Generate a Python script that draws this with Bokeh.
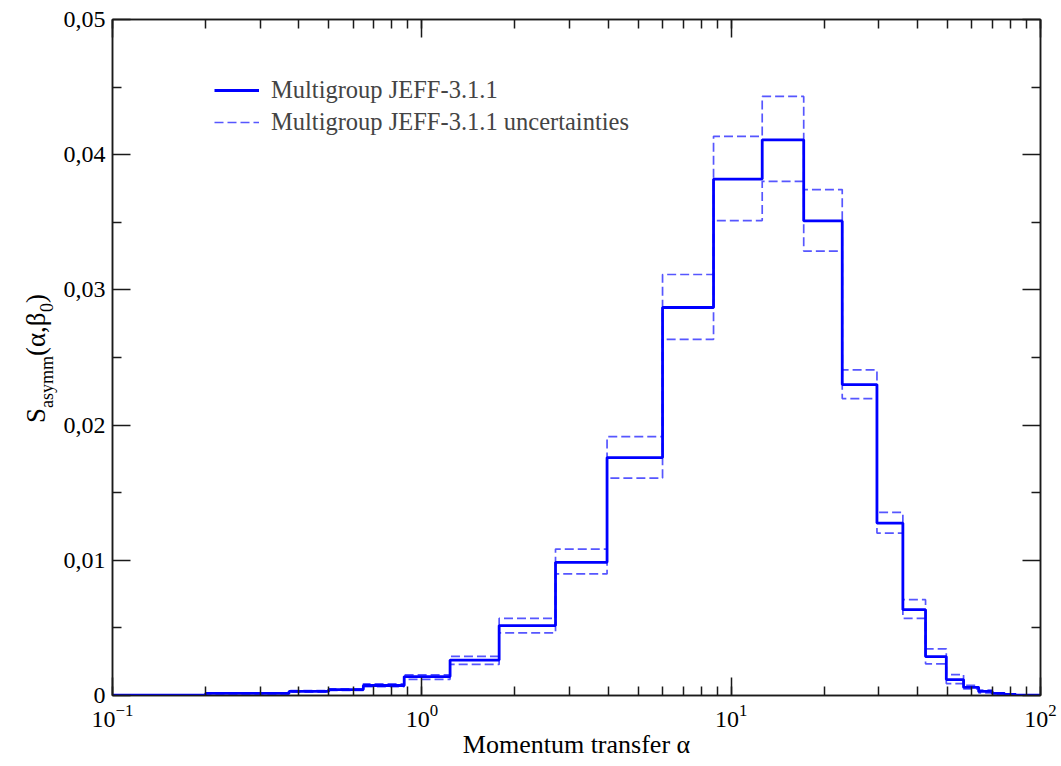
import math
from bokeh.plotting import figure
from bokeh.layouts import row
from bokeh.models import (LogAxis, LinearAxis, FixedTicker, LogTicker, CustomJSTickFormatter,
                          Legend, LegendItem, Label, Range1d)
from bokeh.embed import file_html
from bokeh.resources import INLINE

# ---- data ----
edges = [0.1, 0.2, 0.372, 0.5, 0.647, 0.877, 1.234, 1.778, 2.705, 3.97, 6.0, 8.77, 12.6,
         17.16, 22.86, 29.6, 35.9, 42.5, 49.6, 56.4, 63.1, 69.8, 76.5, 83.2, 100.0]
values = [0.00003, 0.00015, 0.0003, 0.00044, 0.00074, 0.0014, 0.00262, 0.00517, 0.00985,
          0.0176, 0.0287, 0.0382, 0.0411, 0.0351, 0.0230, 0.01275, 0.00635, 0.00288,
          0.00118, 0.0006, 0.0003, 0.00015, 0.00008, 0.00003]
upper = [0.00005, 0.0002, 0.00036, 0.0005, 0.00086, 0.00152, 0.0029, 0.00571, 0.01083,
         0.01915, 0.03114, 0.04136, 0.04431, 0.03742, 0.02408, 0.01354, 0.00709, 0.00345,
         0.00155, 0.00075, 0.0004, 0.0002, 0.0001, 0.00004]
lower = [0.00002, 0.0001, 0.00025, 0.00038, 0.00066, 0.0012, 0.0023, 0.00463, 0.00899,
         0.01608, 0.02634, 0.03513, 0.03803, 0.03287, 0.02196, 0.01201, 0.00571, 0.00234,
         0.00088, 0.00048, 0.0002, 0.0001, 0.00006, 0.00002]
y_ticks = [0.0, 0.01, 0.02, 0.03, 0.04, 0.05]
y_minor = [0.005, 0.015, 0.025, 0.035, 0.045]
legend_labels = ["Multigroup JEFF-3.1.1", "Multigroup JEFF-3.1.1 uncertainties"]
x_label = "Momentum transfer \u03b1"
y_label_parts = ["S", "asymm", "(\u03b1,\u03b2", "0", ")"]

FONT = "Liberation Serif"
AX = "#1a1a1a"
W, H = 1061, 766
LW = 60  # width of the strip holding the y-axis title
FRAME_BOTTOM = 695  # canvas y of the plot frame's bottom edge (shared by both panels)

p = figure(width=W - LW, height=H, x_axis_type="log", output_backend="svg",
           toolbar_location=None, x_range=Range1d(0.1, 100), y_range=Range1d(0, 0.05),
           min_border_left=111 - LW, min_border_right=21, min_border_top=19,
           min_border_bottom=H - FRAME_BOTTOM)
p.grid.visible = False
p.outline_line_color = AX
p.outline_line_width = 1.5
p.background_fill_color = "white"
p.border_fill_color = "white"

yt = FixedTicker(ticks=y_ticks, minor_ticks=y_minor)
xt = LogTicker(desired_num_ticks=4, num_minor_ticks=10)
yfmt = CustomJSTickFormatter(code="return tick == 0 ? '0' : tick.toFixed(2).replace('.', ',');")


def style(ax, labels=True):
    ax.axis_line_color = AX
    ax.axis_line_width = 1.5
    ax.major_tick_line_color = AX
    ax.minor_tick_line_color = AX
    ax.major_tick_line_width = 1.5
    ax.minor_tick_line_width = 1.5
    ax.major_tick_in = 18
    ax.major_tick_out = 0
    ax.minor_tick_in = 9
    ax.minor_tick_out = 0
    ax.major_label_text_font = FONT
    ax.major_label_text_color = "black"
    ax.major_label_text_font_size = "24px"
    if not labels:
        ax.formatter = CustomJSTickFormatter(code="return '';")
        ax.major_label_standoff = 0


xa = p.xaxis[0]
xa.ticker = xt
style(xa)
xa.major_label_standoff = 9
xa.axis_label = x_label
xa.axis_label_text_font = FONT
xa.axis_label_text_font_style = "normal"
xa.axis_label_text_font_size = "26px"
xa.axis_label_text_color = "black"
xa.axis_label_standoff = 0

ya = p.yaxis[0]
ya.ticker = yt
ya.formatter = yfmt
style(ya)
ya.major_label_standoff = 7

top = LogAxis(ticker=xt)
style(top, labels=False)
p.add_layout(top, "above")
right = LinearAxis(ticker=yt)
style(right, labels=False)
p.add_layout(right, "right")

# ---- histogram steps ----
dash_col = "#5656ff"
r_up = p.step(x=edges, y=upper + [upper[-1]], mode="after", line_color=dash_col,
              line_width=1.7, line_dash="9 4")
r_lo = p.step(x=edges, y=lower + [lower[-1]], mode="after", line_color=dash_col,
              line_width=1.7, line_dash="9 4")
r_main = p.step(x=edges, y=values + [values[-1]], mode="after", line_color="#0000ff",
                line_width=2.8)

legend = Legend(items=[LegendItem(label=legend_labels[0], renderers=[r_main]),
                       LegendItem(label=legend_labels[1], renderers=[r_up])],
                location=(102, 557), padding=0, margin=0, spacing=0,
                glyph_width=45, glyph_height=32, label_height=32, label_standoff=12,
                label_text_font=FONT, label_text_font_size="24.5px",
                border_line_alpha=0, background_fill_alpha=0)
p.add_layout(legend)

# ---- strip on the left carrying the y-axis title S_asymm(alpha, beta_0) ----
lab = figure(width=LW, height=H, output_backend="svg", toolbar_location=None,
             x_axis_location=None, y_axis_location=None, min_border=0,
             x_range=Range1d(0, 1), y_range=Range1d(0, 1))
lab.grid.visible = False
lab.outline_line_color = None
lab.background_fill_color = "white"
lab.border_fill_color = "white"

main_fs, sub_fs = 27, 18
em = [0.556, 2.889, 1.633, 0.5, 0.333]
subs = [False, True, False, True, False]
sizes = [sub_fs if s else main_fs for s in subs]
widths = [e * fs for e, fs in zip(em, sizes)]
total = sum(widths)
base_x, sub_x = 35, 46
# screen y measured upward from the (shared) frame bottom
y0 = (FRAME_BOTTOM - 358) - total / 2
for txt, fs, w, is_sub in zip(y_label_parts, sizes, widths, subs):
    lab.add_layout(Label(x=sub_x if is_sub else base_x, y=y0, x_units="screen",
                         y_units="screen", text=txt, angle=math.pi / 2, text_align="left",
                         text_baseline="alphabetic", text_font=FONT,
                         text_font_size=f"{fs}px", text_color="black"))
    y0 += w

layout = row(lab, p, spacing=0)
open("out.html", "w").write(file_html(layout, INLINE))
